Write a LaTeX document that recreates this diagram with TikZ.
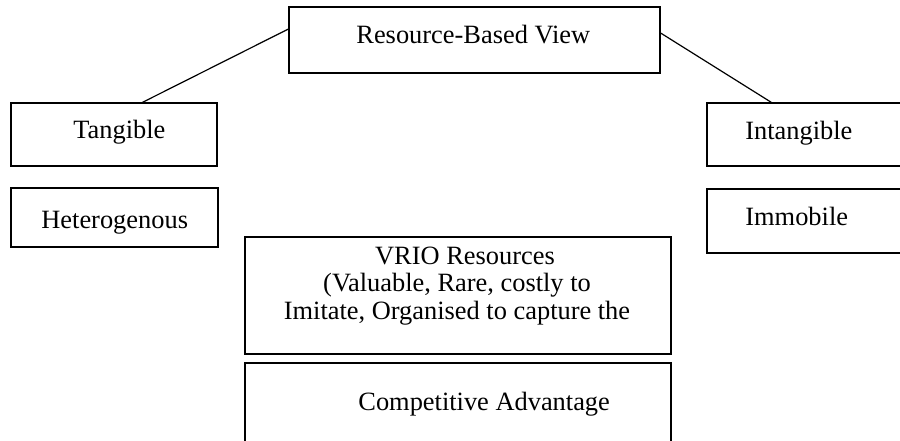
\documentclass[tikz,border=0pt]{standalone}
\usepackage{fontspec}
\setmainfont{Liberation Serif}
\usetikzlibrary{fit,calc}

\tikzset{
  box/.style={draw, line width=0.6pt, inner sep=0pt},
  txt/.style={inner sep=0pt, anchor=base west, font=\fontsize{13.2}{13.6}\selectfont},
}

\begin{document}
\begin{tikzpicture}[x=0.5pt, y=-0.5pt]
  \useasboundingbox (0,0) rectangle (900,440);
  \node[box, fit={(289,7) (660,73)}] (rbv) {};
  \node[box, fit={(11,103) (217,166)}] (tangible) {};
  \node[box, fit={(11,188) (218,247)}] (hetero) {};
  \node[box, fit={(707,103) (935,166)}] (intangible) {};
  \node[box, fit={(707,189) (935,253)}] (immobile) {};
  \node[box, fit={(245,237) (671,354)}] (vrio) {};
  \node[box, fit={(245,363) (671,470)}] (compadv) {};

  \node[txt] (rbvtext) at (356,43) {Resource-Based View};
  \node[txt] (tangibletext) at (73,138) {Tangible};
  \node[txt] (heterotext) at (41,228) {Heterogenous};
  \node[txt] (intangibletext) at (745,139) {Intangible};
  \node[txt] (immobiletext) at (745,225) {Immobile};
  \node[txt, anchor=base, align=center] (vriotext) at (457,319)
    {\hspace{8pt}VRIO Resources\\(Valuable, Rare, costly to\\Imitate, Organised to capture the};
  \node[txt] (compadvtext) at (358,410) {Competitive Advantage};

  \draw[line width=0.6pt] ($(rbv.west)+(0,-11)$) -- ($(tangible.north west)+(132,0)$);
  \draw[line width=0.6pt] ($(rbv.east)+(0,-7)$) -- ($(intangible.north west)+(65,0)$);
\end{tikzpicture}
\end{document}
